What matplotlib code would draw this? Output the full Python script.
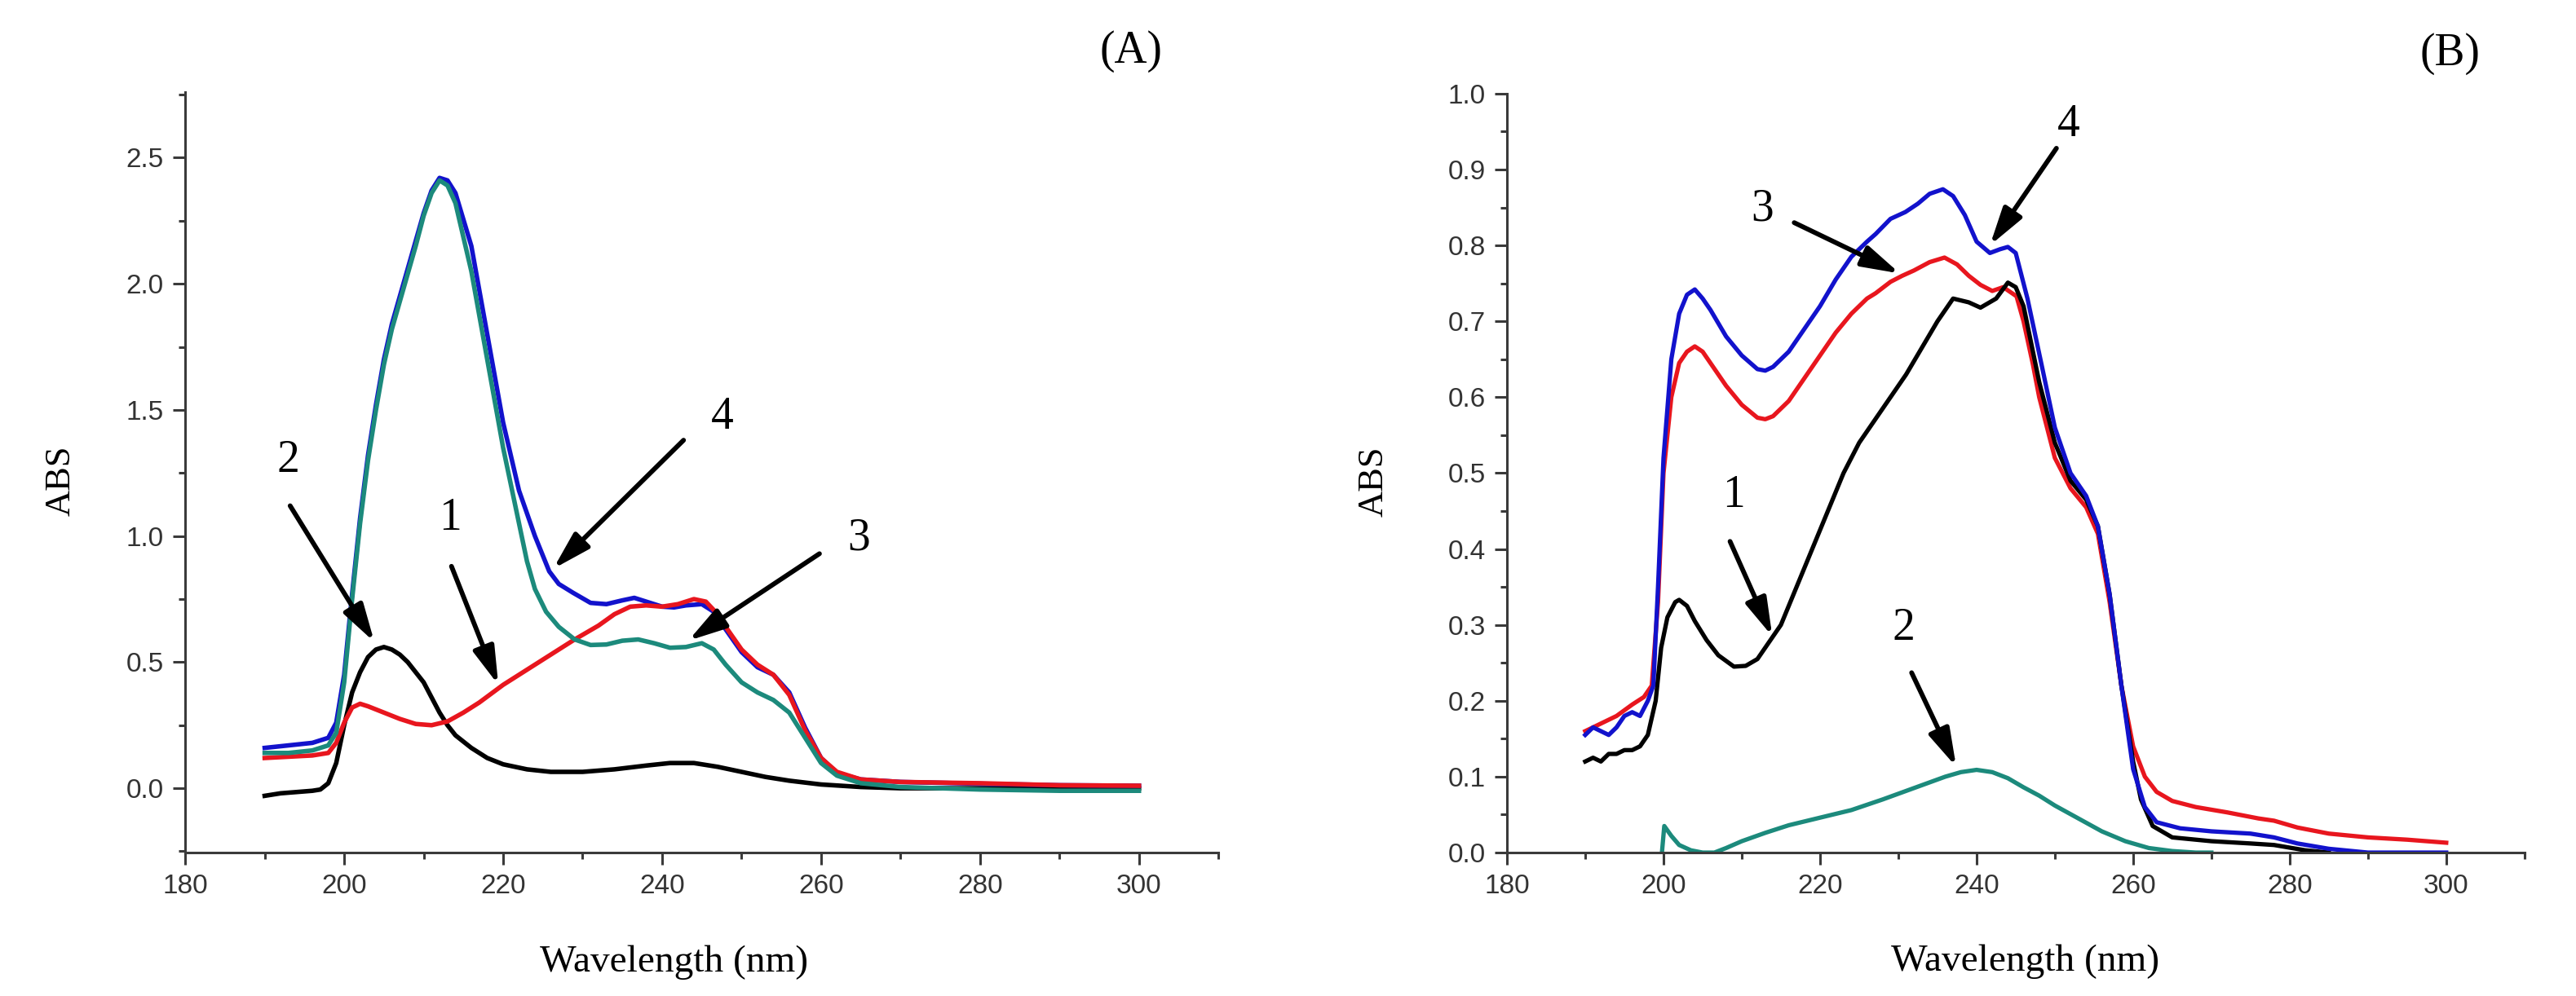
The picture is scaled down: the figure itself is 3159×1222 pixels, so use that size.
import numpy as np
import matplotlib.pyplot as plt
from matplotlib.ticker import MultipleLocator

# ---------------- panel A data ----------------
wl_a_black = [190, 192, 194, 196, 197, 198, 199, 200, 201, 202, 203, 204, 205, 206, 207, 208, 209,
              210, 211, 212, 213, 214, 216, 218, 220, 223, 226, 230, 234, 238, 241, 244, 247, 250,
              253, 256, 260, 265, 270, 280, 290, 300]
abs_a_black = [-0.03, -0.02, -0.015, -0.01, -0.005, 0.02, 0.1, 0.25, 0.38, 0.46, 0.52, 0.55, 0.56,
               0.55, 0.53, 0.5, 0.46, 0.42, 0.36, 0.3, 0.25, 0.21, 0.16, 0.12, 0.095, 0.075, 0.065,
               0.065, 0.075, 0.09, 0.1, 0.1, 0.085, 0.065, 0.045, 0.03, 0.015, 0.005, 0.0, 0.0, 0.0,
               0.0]

wl_a_red = [190, 193, 196, 198, 199, 200, 201, 202, 203, 205, 207, 209, 211, 213, 215, 217, 220,
            223, 226, 229, 232, 234, 236, 238, 240, 242, 244, 245.5, 247, 248, 250, 252, 254, 256,
            258, 260, 262, 265, 270, 280, 290, 300]
abs_a_red = [0.12, 0.125, 0.13, 0.14, 0.18, 0.26, 0.32, 0.335, 0.325, 0.3, 0.275, 0.255, 0.25,
             0.265, 0.3, 0.34, 0.41, 0.47, 0.53, 0.59, 0.645, 0.69, 0.72, 0.725, 0.72, 0.73, 0.75,
             0.74, 0.69, 0.64, 0.55, 0.49, 0.45, 0.37, 0.23, 0.12, 0.065, 0.035, 0.025, 0.02,
             0.012, 0.01]

wl_a_teal = [190, 193, 196, 198, 199, 200, 201, 202, 203, 204, 205, 206, 207, 208, 209, 210, 211,
             212, 213, 214, 216, 218, 220, 222, 223, 224, 225.4, 227, 229, 231, 233, 235, 237, 239,
             241, 243, 245, 246.5, 248, 250, 252, 254, 256, 258, 260, 262, 265, 270, 280, 290, 300]
abs_a_teal = [0.14, 0.14, 0.15, 0.17, 0.22, 0.42, 0.75, 1.05, 1.3, 1.5, 1.68, 1.82, 1.93, 2.04,
              2.15, 2.27, 2.36, 2.41, 2.39, 2.32, 2.05, 1.7, 1.35, 1.05, 0.9, 0.79, 0.7, 0.64,
              0.59, 0.568, 0.57, 0.585, 0.59, 0.575, 0.557, 0.56, 0.575, 0.55, 0.49, 0.42, 0.38,
              0.35, 0.3, 0.2, 0.1, 0.05, 0.02, 0.005, -0.005, -0.01, -0.01]

wl_a_blue = [190, 193, 196, 198, 199, 200, 201, 202, 203, 204, 205, 206, 207, 208, 209, 210, 211,
             212, 213, 214, 216, 218, 220, 222, 224, 225.8, 227, 228.8, 231, 233, 235, 236.5, 238,
             240, 241.5, 243, 245, 246.5, 248, 250, 252, 254, 256, 258, 260, 262, 265, 270, 280,
             290, 300]
abs_a_blue = [0.16, 0.17, 0.18, 0.2, 0.26, 0.45, 0.77, 1.07, 1.32, 1.52, 1.7, 1.84, 1.95, 2.06,
              2.17, 2.28, 2.37, 2.42, 2.41, 2.36, 2.15, 1.8, 1.45, 1.18, 1.0, 0.86, 0.81, 0.775,
              0.735, 0.73, 0.745, 0.755, 0.74, 0.72, 0.717, 0.725, 0.73, 0.7, 0.63, 0.54, 0.48,
              0.45, 0.38, 0.24, 0.12, 0.06, 0.035, 0.025, 0.018, 0.012, 0.01]

# ---------------- panel B data ----------------
wl_b_black = [190, 191, 192, 193, 194, 195, 196, 197, 198, 199, 199.7, 200.5, 201.5, 202, 203, 204,
              205.5, 207, 209, 210.5, 212, 213, 215, 217, 219, 221, 223, 225, 227, 229, 231, 233,
              235, 237, 239, 240.5, 242.5, 244, 245, 246, 247, 248, 250, 252, 254, 255.5, 257,
              258.5, 260, 261, 262.5, 265, 270, 275, 278, 282, 285]
abs_b_black = [0.12, 0.125, 0.12, 0.13, 0.13, 0.135, 0.135, 0.14, 0.155, 0.2, 0.27, 0.31, 0.33,
               0.333, 0.325, 0.305, 0.28, 0.26, 0.245, 0.246, 0.255, 0.27, 0.3, 0.35, 0.4, 0.45,
               0.5, 0.54, 0.57, 0.6, 0.63, 0.665, 0.7, 0.73, 0.725, 0.718, 0.73, 0.751, 0.745,
               0.72, 0.67, 0.62, 0.54, 0.49, 0.465, 0.43, 0.34, 0.22, 0.12, 0.07, 0.035, 0.02,
               0.015, 0.012, 0.01, 0.003, 0.0]

wl_b_red = [190, 192, 194, 196, 197.5, 198.5, 199.3, 200, 201, 202, 203, 204, 205, 206, 208, 210,
            212, 213, 214, 216, 218, 220, 222, 224, 226, 227.1, 229, 230.5, 232, 234, 235.9, 237.5,
            239, 240.5, 242, 243.4, 245.1, 246, 247.2, 248, 250, 252, 254, 255.5, 257, 258.5, 260,
            261.5, 263, 265, 268, 272, 276, 278, 281, 285, 290, 295, 300]
abs_b_red = [0.16, 0.17, 0.18, 0.195, 0.205, 0.22, 0.33, 0.5, 0.6, 0.645, 0.66, 0.667, 0.66, 0.645,
             0.615, 0.59, 0.573, 0.571, 0.575, 0.595, 0.625, 0.655, 0.685, 0.71, 0.73, 0.737,
             0.752, 0.76, 0.767, 0.778, 0.784, 0.775, 0.76, 0.748, 0.74, 0.745, 0.733, 0.7, 0.643,
             0.6, 0.52, 0.48, 0.455, 0.42, 0.33, 0.22, 0.14, 0.1, 0.08, 0.068, 0.06, 0.053, 0.045,
             0.042, 0.033, 0.025, 0.02, 0.017, 0.013]

wl_b_blue = [190, 191, 192, 193, 194, 195, 196, 197, 198, 198.7, 199.3, 200, 201, 202, 203, 204,
             205, 206, 208, 210, 212, 213, 214, 216, 218, 220, 222, 224, 226, 227.1, 229, 230.9,
             232.5, 234, 235.7, 237, 238.5, 240, 241.7, 243, 244, 245, 246.5, 248.3, 250, 252, 254,
             255.5, 257, 258.5, 260, 261.5, 263, 266, 270, 275, 278, 281, 285, 290, 300]
abs_b_blue = [0.155, 0.165, 0.16, 0.155, 0.165, 0.18, 0.185, 0.18, 0.2, 0.22, 0.35, 0.52, 0.65,
              0.71, 0.735, 0.742, 0.73, 0.715, 0.68, 0.655, 0.637, 0.635, 0.64, 0.66, 0.69, 0.72,
              0.755, 0.785, 0.805, 0.815, 0.835, 0.844, 0.855, 0.868, 0.874, 0.865, 0.84, 0.805,
              0.79, 0.795, 0.798, 0.79, 0.73, 0.643, 0.56, 0.5, 0.47, 0.43, 0.34, 0.22, 0.11,
              0.06, 0.04, 0.032, 0.028, 0.025, 0.02, 0.012, 0.005, 0.0, 0.0]

wl_b_teal = [199.8, 200.1, 201, 202, 203.5, 205, 206.5, 208, 210, 213, 216, 220, 224, 228, 232,
             236, 238, 240, 242, 244, 246, 248, 250, 253, 256, 259, 262, 265, 268, 270]
abs_b_teal = [0.0, 0.035, 0.022, 0.01, 0.003, 0.0, 0.0, 0.006, 0.015, 0.026, 0.036, 0.046, 0.056,
              0.07, 0.085, 0.1, 0.106, 0.109, 0.106, 0.098, 0.086, 0.075, 0.062, 0.045, 0.028,
              0.015, 0.006, 0.002, 0.0, 0.0]

# curve number labels: (text, text x, text y, arrow start x, start y, arrow tip x, tip y)
notes_a = [("2", 193.0, 1.30, 193.2, 1.12, 203.8, 0.58),
           ("1", 213.3, 1.07, 213.5, 0.88, 219.4, 0.41),
           ("4", 247.6, 1.47, 242.7, 1.38, 226.3, 0.87),
           ("3", 264.7, 0.99, 259.8, 0.93, 243.3, 0.585)]
notes_b = [("1", 209.0, 0.47, 208.5, 0.41, 213.9, 0.285),
           ("2", 230.7, 0.295, 231.7, 0.237, 237.4, 0.113),
           ("3", 212.6, 0.848, 216.7, 0.83, 230.2, 0.763),
           ("4", 251.8, 0.959, 250.2, 0.928, 241.7, 0.80)]

c_black = "#000000"
c_red = "#e8161e"
c_blue = "#1212cc"
c_teal = "#1c8a7c"
axis_col = "#3a3a3a"

fig = plt.figure(figsize=(31.59, 12.22), dpi=100)
ax_a = fig.add_axes([0.0719, 0.144, 0.4011, 0.7635])
ax_b = fig.add_axes([0.585, 0.144, 0.395, 0.762])


def style_axes(ax, ylim, major, minor, label_x):
    ax.set_xlim(180, 310)
    ax.set_ylim(*ylim)
    for side in ("top", "right"):
        ax.spines[side].set_visible(False)
    for side in ("left", "bottom"):
        ax.spines[side].set_linewidth(2.2)
        ax.spines[side].set_color(axis_col)
    ax.xaxis.set_major_locator(MultipleLocator(20))
    ax.xaxis.set_minor_locator(MultipleLocator(10))
    ax.yaxis.set_major_locator(MultipleLocator(major))
    ax.yaxis.set_minor_locator(MultipleLocator(minor))
    ax.tick_params(which="both", direction="out", color=axis_col, width=2.2,
                   labelsize=24, labelcolor="#333333", pad=8)
    ax.tick_params(which="major", length=11)
    ax.tick_params(which="minor", length=6)
    for lab in ax.get_xticklabels() + ax.get_yticklabels():
        lab.set_fontfamily("Liberation Sans")
    ax.set_xlabel("Wavelength (nm)", family="Liberation Serif", fontsize=34, va="center")
    ax.xaxis.set_label_coords(label_x, -0.144)
    ax.set_ylabel("ABS", family="Liberation Serif", fontsize=32, va="center")


def add_notes(ax, notes):
    for txt, tx, ty, sx, sy, hx, hy in notes:
        ax.text(tx, ty, txt, family="Liberation Serif", fontsize=40, ha="center", va="center")
        ax.annotate("", xy=(hx, hy), xytext=(sx, sy),
                    arrowprops=dict(arrowstyle="-|>,head_length=0.7,head_width=0.2",
                                    mutation_scale=40, color="k", lw=4.2,
                                    shrinkA=0, shrinkB=0))


# panel A
ax_a.plot(wl_a_black, abs_a_black, color=c_black, lw=4)
ax_a.plot(wl_a_blue, abs_a_blue, color=c_blue, lw=4)
ax_a.plot(wl_a_red, abs_a_red, color=c_red, lw=4)
ax_a.plot(wl_a_teal, abs_a_teal, color=c_teal, lw=4)
style_axes(ax_a, (-0.255, 2.76), 0.5, 0.25, 0.473)
ax_a.yaxis.set_label_coords(-0.12, 0.489)
add_notes(ax_a, notes_a)

# panel B
ax_b.plot(wl_b_teal, abs_b_teal, color=c_teal, lw=3.8)
ax_b.plot(wl_b_red, abs_b_red, color=c_red, lw=3.8)
ax_b.plot(wl_b_black, abs_b_black, color=c_black, lw=3.8)
ax_b.plot(wl_b_blue, abs_b_blue, color=c_blue, lw=3.8)
style_axes(ax_b, (0.0, 1.0), 0.1, 0.05, 0.509)
ax_b.yaxis.set_label_coords(-0.131, 0.489)
add_notes(ax_b, notes_b)

fig.text(1387 / 3159, 1 - 63 / 1222, "(A)", family="Liberation Serif", fontsize=40,
         ha="center", va="center")
fig.text(3004 / 3159, 1 - 66 / 1222, "(B)", family="Liberation Serif", fontsize=40,
         ha="center", va="center")

fig.savefig("out.png", dpi=100, facecolor="white")
